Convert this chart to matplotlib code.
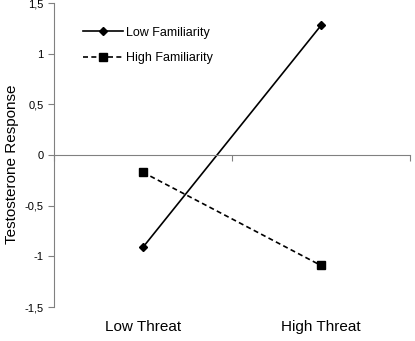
import matplotlib.pyplot as plt

plt.rcParams['font.family'] = ['Liberation Sans', 'DejaVu Sans']

# datos
categorias = ['Low Threat', 'High Threat']
low_fam = [-0.91, 1.28]
high_fam = [-0.17, -1.09]
yticks = [-1.5, -1, -0.5, 0, 0.5, 1, 1.5]
ytick_labels = ['-1,5', '-1', '-0,5', '0', '0,5', '1', '1,5']

fig = plt.figure(figsize=(4.15, 3.41), dpi=100)
ax = fig.add_axes([0.130, 0.0997, 0.858, 0.891])

x = [0.5, 1.5]
ax.plot(x, low_fam, color='black', lw=1.2, marker='D', markersize=4.5, label='Low Familiarity')
ax.plot(x, high_fam, color='black', lw=1.2, ls=(0, (3, 2)), marker='s', markersize=6,
        label='High Familiarity')

ax.set_xlim(0, 2)
ax.set_ylim(-1.5, 1.5)
ax.set_yticks(yticks)
ax.set_yticklabels(ytick_labels, fontsize=8)
ax.set_xticks([0, 1, 2])
ax.set_xticklabels([])

for s in ['top', 'right']:
    ax.spines[s].set_visible(False)
ax.spines['bottom'].set_position(('data', 0))
ax.spines['bottom'].set_color('#808080')
ax.spines['left'].set_color('#808080')
ax.tick_params(axis='both', colors='#808080', length=4, width=0.8, labelcolor='black')

for xi, c in zip(x, categorias):
    ax.text(xi, -0.066, c, transform=ax.get_xaxis_transform(), ha='center', va='center', fontsize=11)

ax.set_ylabel('Testosterone Response', fontsize=11)
ax.yaxis.set_label_coords(-0.098, 0.47)

ax.legend(loc='upper left', bbox_to_anchor=(0.05, 0.96), frameon=False, fontsize=9,
          handlelength=3.2, handletextpad=0.2, labelspacing=1.1)

plt.savefig('out.png', dpi=100)
